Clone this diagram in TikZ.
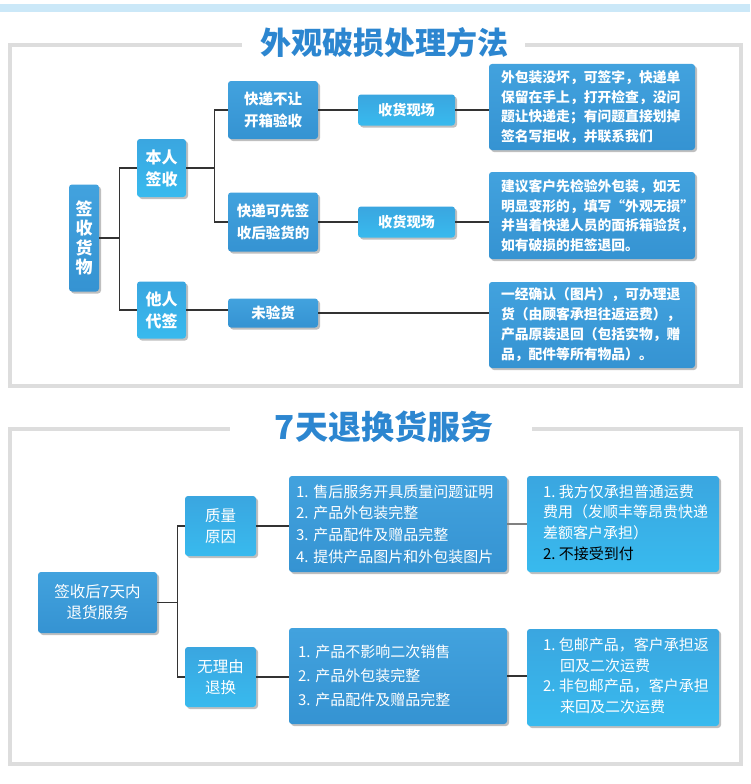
\documentclass[tikz,border=0pt]{standalone}
\usepackage{fontspec}
\setmainfont{Noto Sans CJK SC}
\usetikzlibrary{shadows}
\frenchspacing
\definecolor{dbtop}{HTML}{42A2DE}
\definecolor{dbbot}{HTML}{3593D2}
\definecolor{lbtop}{HTML}{3AA6E0}
\definecolor{lbbot}{HTML}{38BAEE}
\definecolor{wirec}{HTML}{333333}
\definecolor{framec}{HTML}{DDDDDD}
\definecolor{bandc}{HTML}{CBE8F8}
\definecolor{titlec}{HTML}{2C86D0}
\newcommand\fsz[2]{\fontsize{#1}{#2}\selectfont}
\newcommand\txtlines[1]{\begin{tabular}{@{\hspace{16pt}}p{176pt}@{}}#1\end{tabular}}
\newcommand\indbox{\makebox[17pt]{}}
\begin{document}
\begin{tikzpicture}[x=1pt,y=-1pt,
  base/.style={rounded corners=3pt, text=white, inner sep=0pt, align=center,
    drop shadow={shadow xshift=2pt,shadow yshift=-2pt,opacity=0.25,fill=black}},
  dbox/.style={base, top color=dbtop, bottom color=dbbot},
  lbox/.style={base, top color=lbtop, bottom color=lbbot},
  wire/.style={draw=wirec, line width=1.3pt},
  frame/.style={draw=framec, line width=4pt},
  ttl/.style={text=titlec, font=\fsz{31}{34}\bfseries, inner sep=0pt}
]
\useasboundingbox (0,0) rectangle (750,784);
\fill[white] (0,0) rectangle (750,784);
\fill[bandc] (0,4) rectangle (750,12);

% ---------- panel 1 ----------
\node[ttl] (t1) at (384,43) {外观破损处理方法};
\draw[frame] ([xshift=-18pt]t1.west |- 0,45) -- (10,45) -- (10,386) -- (741,386) -- (741,45) -- ([xshift=17pt]t1.east |- 0,45);

\node[dbox, minimum width=30pt, minimum height=107pt, font=\fsz{17}{19.5}\bfseries] (root1) at (84,238) {签\\收\\货\\物};
\node[lbox, minimum width=49pt, minimum height=58pt, font=\fsz{16}{22}\bfseries] (brqs) at (161.5,168) {本人\\签收};
\node[lbox, minimum width=49pt, minimum height=57pt, font=\fsz{16}{22}\bfseries] (trdq) at (161.5,310) {他人\\代签};
\node[dbox, minimum width=90pt, minimum height=58pt, font=\fsz{14.5}{22}\bfseries] (kdbr) at (273,110) {快递不让\\开箱验收};
\node[dbox, minimum width=90pt, minimum height=59pt, font=\fsz{14.5}{22}\bfseries] (kdkx) at (273,222) {快递可先签\\收后验货的};
\node[dbox, minimum width=90pt, minimum height=29pt, font=\fsz{14.5}{18}\bfseries] (wyh) at (273,313) {未验货};
\node[lbox, minimum width=97pt, minimum height=31pt, font=\fsz{14.2}{18}\bfseries] (shxc1) at (406.5,110) {收货现场};
\node[lbox, minimum width=97pt, minimum height=31pt, font=\fsz{14.2}{18}\bfseries] (shxc2) at (406.5,222) {收货现场};
\node[dbox, minimum width=206pt, minimum height=86pt, text width=182pt, align=left, font=\fsz{13.8}{19.5}\bfseries] (rb1) at (592,107)
  {外包装没坏，可签字，快递单\\保留在手上，打开检查，没问\\题让快递走；有问题直接划掉\\签名写拒收，并联系我们};
\node[dbox, minimum width=206pt, minimum height=87pt, text width=182pt, align=left, font=\fsz{13.8}{19.5}\bfseries] (rb2) at (592,215.5)
  {建议客户先检验外包装，如无\\明显变形的，填写“外观无损”\\并当着快递人员的面拆箱验货，\\如有破损的拒签退回。};
\node[dbox, minimum width=206pt, minimum height=86pt, text width=182pt, align=left, font=\fsz{13.8}{20}\bfseries] (rb3) at (592,325)
  {一经确认（图片），可办理退\\货（由顾客承担往返运费），\\产品原装退回（包括实物，赠\\品，配件等所有物品）。};

\draw[wire] (root1.east) -- ++(21,0);
\draw[wire] (brqs.west) -- ++(-17,0) |- (trdq.west);
\draw[wire] (brqs.east) -- ++(29,0);
\draw[wire] (kdbr.west) -- ++(-13,0) |- (kdkx.west);
\draw[wire] (kdbr.east) -- (shxc1.west);
\draw[wire] (kdkx.east) -- (shxc2.west);
\draw[wire] (shxc1.east) -- (shxc1.east -| rb1.west);
\draw[wire] (shxc2.east) -- (shxc2.east -| rb2.west);
\draw[wire] (trdq.east) -- (trdq.east -| wyh.west);
\draw[wire] (wyh.east) -- (wyh.east -| rb3.west);

% ---------- panel 2 ----------
\node[ttl, font=\fsz{33}{36}\bfseries] (t2) at (384,427) {7天退换货服务};
\draw[frame] ([xshift=-45pt]t2.west |- 0,429) -- (10,429) -- (10,764) -- (741,764) -- (741,429) -- ([xshift=39pt]t2.east |- 0,429);

\node[dbox, minimum width=119pt, minimum height=61pt, font=\fsz{15.5}{21}] (root2) at (97.5,602.5) {签收后7天内\\退货服务};
\node[lbox, minimum width=71pt, minimum height=60pt, font=\fsz{15.5}{21}] (zlyy) at (220.5,526) {质量\\原因};
\node[lbox, minimum width=71pt, minimum height=60pt, font=\fsz{15.5}{21}] (wly) at (220.5,677) {无理由\\退换};
\node[dbox, minimum width=218pt, minimum height=96pt, text width=204pt, align=left, font=\fsz{15}{21.7}] (shbox) at (398,524)
  {1. 售后服务开具质量问题证明\\2. 产品外包装完整\\3. 产品配件及赠品完整\\4. 提供产品图片和外包装图片};
\node[dbox, minimum width=218pt, minimum height=96pt, text width=200pt, align=left, font=\fsz{15}{24}] (cpbox) at (398,676)
  {1. 产品不影响二次销售\\2. 产品外包装完整\\3. 产品配件及赠品完整};
\node[lbox, minimum width=192pt, minimum height=96pt, font=\fsz{15}{20.7}] (wfbox) at (623,524)
  {\txtlines{1. 我方仅承担普通运费\\费用（发顺丰等昂贵快递\\差额客户承担）\\\textcolor{black}{2. 不接受到付}}};
\node[lbox, minimum width=192pt, minimum height=97pt, font=\fsz{15}{20.5}] (bybox) at (623,677.5)
  {\txtlines{1. 包邮产品，客户承担返\\\indbox 回及二次运费\\2. 非包邮产品，客户承担\\\indbox 来回及二次运费}};

\draw[wire] (root2.east) -- ++(21,0);
\draw[wire] (zlyy.west) -- ++(-7,0) |- (wly.west);
\draw[wire] (zlyy.east) -- (zlyy.east -| shbox.west);
\draw[wire] (wly.east) -- (wly.east -| cpbox.west);
\draw[wire, draw=gray, line width=2pt] (shbox.east) -- (shbox.east -| wfbox.west);
\draw[wire] (cpbox.east) -- (cpbox.east -| bybox.west);
\end{tikzpicture}
\end{document}
